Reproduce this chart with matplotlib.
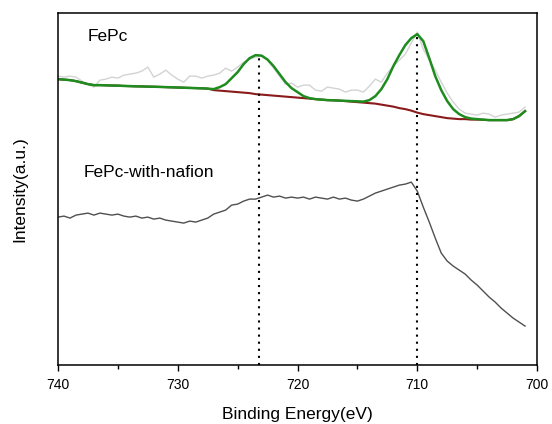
import matplotlib.pyplot as plt
import numpy as np

plt.rcParams["font.family"] = ["Liberation Sans", "DejaVu Sans"]

# binding energy grid, 0.5 eV steps from 740 down to 701
energy = np.arange(740.0, 700.9, -0.5)

# FePc raw spectrum (light gray)
fepc_raw = [
    289, 288, 289, 288, 284, 281, 278, 285, 286, 288,   # 740 - 735.5
    287, 290, 291, 292, 294, 298, 288, 291, 295, 290,   # 735 - 730.5
    286, 283, 289, 289, 287, 289, 290, 292, 297, 294,   # 730 - 725.5
    298, 303, 306, 308, 309, 305, 297, 289, 281, 282,   # 725 - 720.5
    278, 280, 280, 275, 274, 278, 277, 276, 273, 275,   # 720 - 715.5
    275, 273, 279, 286, 283, 292, 299, 305, 311, 322,   # 715 - 710.5
    333, 316, 305, 295, 283, 272, 263, 256, 252, 251,   # 710 - 705.5
    250, 252, 251, 248, 250, 251, 252, 253, 258,        # 705 - 701
]

# FePc fitted envelope (green)
fepc_fit = [
    286, 285.5, 285, 284, 282.5, 281, 280, 280, 279.8, 279.6,
    279.5, 279.2, 279, 278.8, 278.7, 278.5, 278.4, 278.2, 278, 277.8,
    277.6, 277.4, 277.2, 277, 276.8, 276.5, 276, 278, 281, 287,
    293, 301, 307, 310, 309.5, 305.5, 299, 291, 283, 277,
    273, 269, 267, 266, 265.5, 265, 264.8, 264.5, 264.3, 264,
    263.8, 263.5, 265, 269, 276, 286, 299, 310, 320, 327,
    331, 324, 307, 289, 275, 264, 256, 251, 248, 246.5,
    246, 245.5, 245, 245, 245, 245, 246, 249, 254,
]

# FePc background (dark red)
fepc_bg = [
    286, 285.5, 285, 284, 282.5, 281, 280, 280, 279.8, 279.6,
    279.5, 279.2, 279, 278.8, 278.7, 278.5, 278.4, 278.2, 278, 277.8,
    277.6, 277.4, 277.2, 277, 276.8, 276.5, 275, 274.5, 274, 273.5,
    273, 272.5, 272, 271, 270.5, 270, 269.5, 269, 268.5, 268,
    267.5, 267, 266.5, 266, 265.5, 265, 264.8, 264.5, 264, 263.5,
    263, 262.5, 262, 261.5, 260.5, 259.5, 258.5, 257, 256, 254.5,
    252.5, 251, 250, 249, 248, 247, 246.5, 246, 246, 245.5,
    245.5, 245.3, 245, 245, 245, 245, 246, 249, 254,
]

# FePc-with-nafion spectrum (dark gray)
nafion = [
    148, 149, 147, 150, 151, 152, 150, 152, 151, 150,
    151, 149, 148, 149, 147, 148, 146, 147, 145, 144,
    143, 142, 144, 143, 145, 147, 151, 153, 155, 160,
    161, 164, 166, 166, 168, 170, 168, 169, 167, 168,
    167, 168, 166, 168, 167, 166, 168, 166, 167, 165,
    164, 166, 169, 172, 174, 176, 178, 180, 181, 183,
    174, 158, 143, 127, 112, 104, 99, 95, 91, 85,
    80, 74, 68, 63, 57, 52, 47, 43, 39,
]

# dotted peak markers: position and top of the line
peak_pos = [723.2, 710.0]
peak_top = [310, 331]

fig = plt.figure(figsize=(5.52, 4.24), dpi=100)
ax = fig.add_axes([0.1051, 0.139, 0.8678, 0.830])

ax.plot(energy, fepc_raw, color="#d3d3d3", lw=1.0)
ax.plot(energy, fepc_bg, color="#8b1a1a", lw=1.5)
ax.plot(energy, fepc_fit, color="#1e8c1e", lw=1.8)
ax.plot(energy, nafion, color="#505050", lw=1.0)

for pos, top in zip(peak_pos, peak_top):
    ax.plot([pos, pos], [0, top], color="black", lw=1.5, dashes=(1, 2.4))

ax.text(737.5, 329, "FePc", fontsize=12.5, va="center", ha="left")
ax.text(737.9, 193, "FePc-with-nafion", fontsize=12.5, va="center", ha="left")

ax.set_xlim(740, 700)
ax.set_ylim(0, 352)
ax.set_xticks([740, 730, 720, 710, 700])
ax.set_xticks([735, 725, 715, 705], minor=True)
ax.set_yticks([])
ax.tick_params(axis="x", which="major", length=4, width=1, labelsize=10, pad=5)
ax.tick_params(axis="x", which="minor", length=3, width=1)
for spine in ax.spines.values():
    spine.set_linewidth(1.1)

ax.set_xlabel("Binding Energy(eV)", fontsize=12.5, labelpad=11)
ax.set_ylabel("Intensity(a.u.)", fontsize=12.5, labelpad=22)

fig.savefig("out.png", dpi=100)
